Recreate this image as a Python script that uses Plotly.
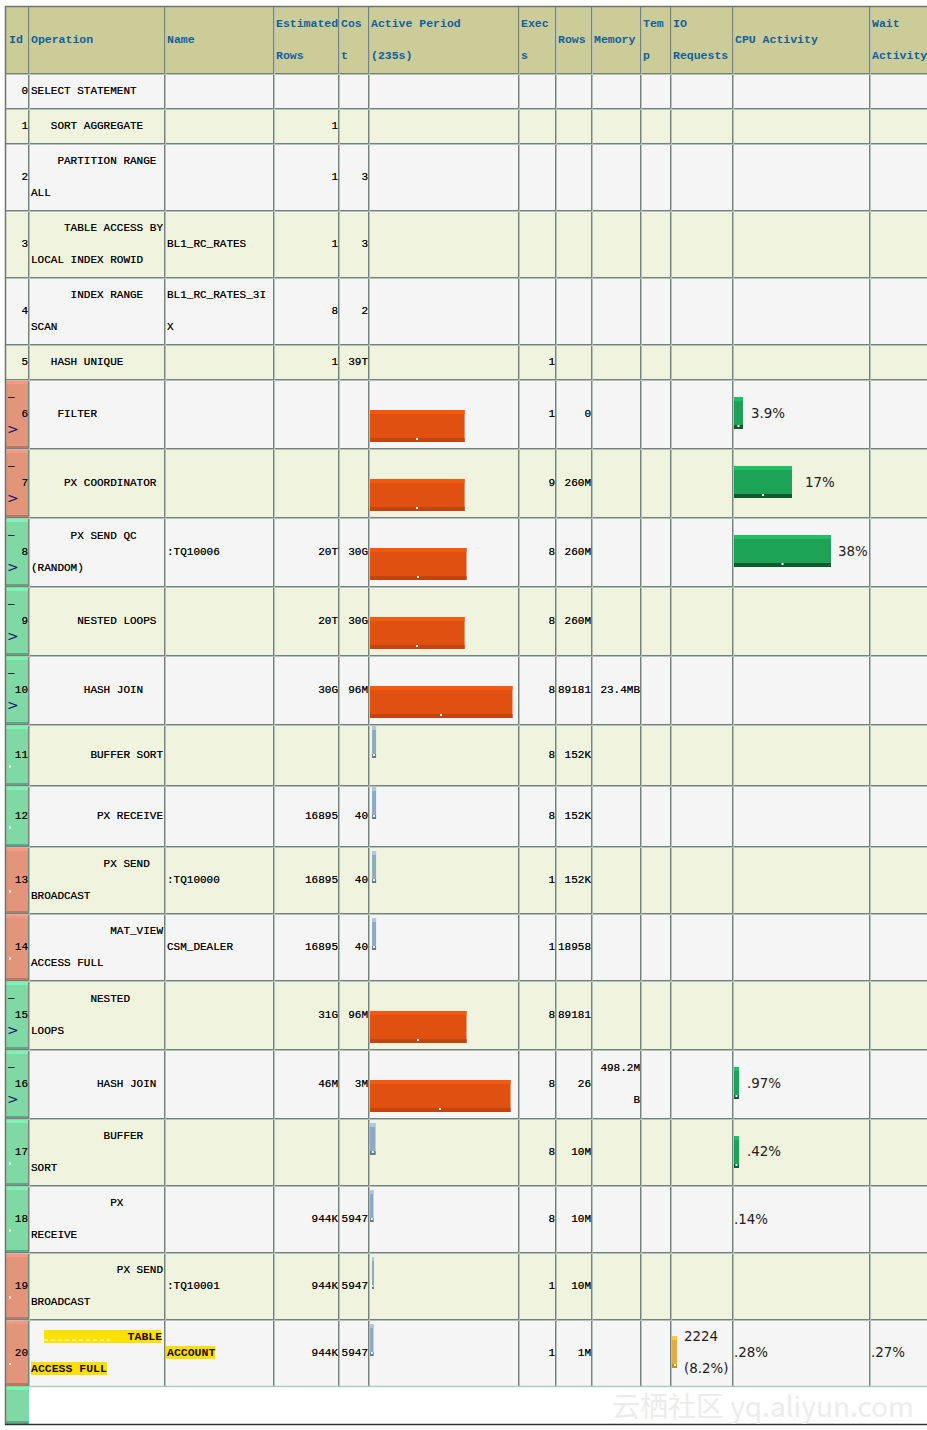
import plotly.graph_objects as go

NB = '\u00a0'

# table content
ids = list(range(21))
op_indent = [0, 3, 4, 5, 6, 3, 4, 5, 6, 7, 8, 9, 10, 11, 12, 9, 10, 11, 12, 13, 14]
op_line1 = ['SELECT STATEMENT', 'SORT AGGREGATE', 'PARTITION RANGE', 'TABLE ACCESS BY', 'INDEX RANGE',
            'HASH UNIQUE', 'FILTER', 'PX COORDINATOR', 'PX SEND QC', 'NESTED LOOPS', 'HASH JOIN',
            'BUFFER SORT', 'PX RECEIVE', 'PX SEND', 'MAT_VIEW', 'NESTED', 'HASH JOIN', 'BUFFER', 'PX',
            'PX SEND', 'TABLE']
op_line2 = ['', '', 'ALL', 'LOCAL INDEX ROWID', 'SCAN', '', '', '', '(RANDOM)', '', '', '', '', 'BROADCAST',
            'ACCESS FULL', 'LOOPS', '', 'SORT', 'RECEIVE', 'BROADCAST', 'ACCESS FULL']
names = ['', '', '', 'BL1_RC_RATES', 'BL1_RC_RATES_3I', '', '', '', ':TQ10006', '', '', '', '', ':TQ10000',
         'CSM_DEALER', '', '', '', '', ':TQ10001', 'ACCOUNT']
est_rows = ['', '1', '1', '1', '8', '1', '', '', '20T', '20T', '30G', '', '16895', '16895', '16895', '31G',
            '46M', '', '944K', '944K', '944K']
costs = ['', '', '3', '3', '2', '39T', '', '', '30G', '30G', '96M', '', '40', '40', '40', '96M', '3M', '',
         '5947', '5947', '5947']
execs = ['', '', '', '', '', '1', '1', '9', '8', '8', '8', '8', '8', '1', '1', '8', '8', '8', '8', '1', '1']
act_rows = ['', '', '', '', '', '', '0', '260M', '260M', '260M', '89181', '152K', '152K', '152K', '18958',
            '89181', '26', '10M', '10M', '10M', '1M']
memory_rows = [10, 16]
memory_text = [['23.4MB'], ['498.2M', 'B']]
headers = [('Id', ['Id']), ('Operation', ['Operation']), ('Name', ['Name']), ('Est', ['Estimated', 'Rows']),
           ('Cost', ['Cos', 't']), ('Active', ['Active Period', '(235s)']), ('Exec', ['Exec', 's']),
           ('Rows', ['Rows']), ('Memory', ['Memory']), ('Temp', ['Tem', 'p']), ('IO', ['IO', 'Requests']),
           ('CPU', ['CPU Activity']), ('Wait', ['Wait', 'Activity'])]

# timeline bars, seconds out of 235s
active_rows = [6, 7, 8, 9, 10, 11, 12, 13, 14, 15, 16, 17, 18, 19, 20]
active_start = [0, 0, 0, 0, 0, 4, 4, 4, 4, 0, 0, 0.8, 0.8, 4, 0.8]
active_secs = [149, 149, 152, 149, 224, 6.3, 6.3, 6.3, 6.3, 152, 221, 8.6, 5.5, 1.5, 5.5]
active_long = [True, True, True, True, True, False, False, False, False, True, True, False, False, False, False]

# CPU activity
cpu_rows = [6, 7, 8, 16, 17]
cpu_bar = [9, 58, 97, 5, 5]
cpu_labels = ['3.9%', '17%', '38%', '.97%', '.42%']
cpu_plain_rows = [18, 20]
cpu_plain_labels = ['.14%', '.28%']
wait_row = 20
wait_label = '.27%'
io_row = 20
io_bar = 5
io_lines = ['2224', '(8.2%)']

red_rows = [6, 7, 13, 14, 19, 20]
green_rows = [8, 9, 10, 11, 12, 15, 16, 17, 18, 21]
expand_rows = [6, 7, 8, 9, 10, 15, 16]
dot_rows = [11, 12, 13, 14, 17, 18, 19, 20]

# page geometry in pixels
col_edges = [6, 29, 165, 274, 339, 369, 519, 556, 592, 641, 671, 733, 870, 929]
row_edges = [7, 74, 109, 144, 211, 278, 345, 380, 449, 518, 587, 656, 725, 786, 847, 914, 981, 1050, 1119,
             1186, 1253, 1320, 1386, 1424]
row_tops = row_edges[1:-1]
row_bots = row_edges[2:]
bar_h = 32
bar_x0 = 369.5
px_per_sec = 150 / 235


def row_mid(r):
    return (row_tops[r] + row_bots[r]) / 2


fig = go.Figure()

# cell backgrounds
C_WHITE, C_EVEN, C_ODD, C_HEAD, C_RED, C_GREEN = 0, 1, 2, 3, 4, 5
cell_colors = ['#ffffff', '#f5f5f5', '#f0f3dd', '#cccc99', '#e2957a', '#7ed9a5']
z = [[C_HEAD] * 13]
for r in range(21):
    z.append([C_ODD if r % 2 else C_EVEN] * 13)
z.append([C_WHITE] * 13)
for r in red_rows:
    z[r + 1][0] = C_RED
for r in green_rows:
    z[r + 1][0] = C_GREEN
scale = []
for i, c in enumerate(cell_colors):
    scale += [[i / 6, c], [(i + 1) / 6, c]]
fig.add_trace(go.Heatmap(x=col_edges, y=row_edges, z=z, zmin=-0.5, zmax=5.5, colorscale=scale, showscale=False,
                         hoverinfo='skip'))


def add_bars(items, color):
    fig.add_trace(go.Bar(orientation='h', base=[i[0] for i in items], x=[i[1] for i in items],
                         y=[i[2] + i[3] / 2 for i in items], width=[i[3] for i in items],
                         marker=dict(color=color, line_width=0), hoverinfo='skip', showlegend=False))


def add_3d_bars(items, top, body, bottom, edge=4):
    add_bars([(x, w, y, bar_h) for x, w, y in items], body)
    add_bars([(x, w, y, edge) for x, w, y in items], top)
    add_bars([(x, w, y + bar_h - edge, edge) for x, w, y in items], bottom)


# id strips
for rows, top, bottom in ((red_rows, '#ff9880', '#b87a64'), (green_rows, '#78f8b0', '#5fa683')):
    add_bars([(6, 22.5, row_tops[r] + 1 if r < 21 else row_edges[-2] + 1, 3) for r in rows], top)
    add_bars([(6, 22.5, (row_bots[r] if r < 21 else row_edges[-1]) - 3, 3) for r in rows], bottom)

# highlighted text of the last line
y20 = row_mid(20)
add_bars([(44, 117, y20 - 23, 13), (31, 76, y20 + 9, 13), (166, 49, y20 - 7, 13)], '#ffe000')

# timeline bars
orange, blue = [], []
for r, s, d, long in zip(active_rows, active_start, active_secs, active_long):
    if long:
        orange.append((bar_x0 + s * px_per_sec, d * px_per_sec, row_tops[r] + 30))
    else:
        blue.append((bar_x0 + s * px_per_sec, d * px_per_sec, row_tops[r] + (1 if r in (11, 12) else 4)))
add_3d_bars(orange, '#f5590f', '#e05010', '#c04510')
add_3d_bars(blue, '#a8c8e8', '#8aaac8', '#607890')
add_3d_bars([(734, w, row_tops[r] + 17) for r, w in zip(cpu_rows, cpu_bar)], '#1fbf66', '#1ca355', '#0e5c2e')
add_3d_bars([(672, io_bar, row_tops[io_row] + 16)], '#ffc840', '#dfae3c', '#b8902f')

# grid lines: dark pixel with a lighter one beside it
for color, off in (('#76837d', -0.5), ('#b4c0b8', 0.5)):
    xs, ys = [], []
    for e in col_edges[1:-1]:
        xs += [e + off, e + off, None]
        ys += [row_edges[0], row_edges[-2], None]
    for e in row_edges[1:-2]:
        xs += [6, 927, None]
        ys += [e + off, e + off, None]
    fig.add_trace(go.Scatter(x=xs, y=ys, mode='lines', line=dict(color=color, width=1), hoverinfo='skip',
                             showlegend=False))
# line under the last data row and outer frame
fig.add_trace(go.Scatter(x=[29, 927], y=[1386.5, 1386.5], mode='lines', line=dict(color='#b8c8c0', width=1.5),
                         hoverinfo='skip', showlegend=False))
fig.add_trace(go.Scatter(x=[927, 5.5, 5.5], y=[6.5, 6.5, 1424.5], mode='lines',
                         line=dict(color='#6f756c', width=1.5), hoverinfo='skip', showlegend=False))
fig.add_trace(go.Scatter(x=[5, 927], y=[1424.5, 1424.5], mode='lines', line=dict(color='#333333', width=1.5),
                         hoverinfo='skip', showlegend=False))


def add_text(items, pos, family, size, color, bold=False, shadow='none'):
    fig.add_trace(go.Scatter(x=[i[0] for i in items], y=[i[1] for i in items], text=[i[2] for i in items],
                             mode='text', textposition=pos, cliponaxis=False, hoverinfo='skip', showlegend=False,
                             textfont=dict(family=family, size=size, color=color, shadow=shadow,
                                           weight='bold' if bold else 'normal')))


MONO = 'Liberation Mono'
SANS = 'DejaVu Sans'
HEAVY = '0 0 0.25px #555555'

# white dots in the bars and strips
dot_x = [bar_x0 + (s + d / 2) * px_per_sec for s, d in zip(active_start, active_secs)]
dot_x += [734 + w / 2 for w in cpu_bar] + [10] * len(dot_rows) + [675]
dot_y = []
for r, long in zip(active_rows, active_long):
    dot_y.append(row_tops[r] + (30 if long else (1 if r in (11, 12) else 4)) + bar_h - 3)
dot_y += [row_tops[r] + 17 + bar_h - 3 for r in cpu_rows]
dot_y += [row_mid(r) + 11 for r in dot_rows]
dot_y += [row_tops[io_row] + 16 + bar_h - 3]
fig.add_trace(go.Scatter(x=dot_x, y=dot_y, mode='markers', hoverinfo='skip', showlegend=False,
                         marker=dict(symbol='square', size=2, color='#ffffff', line_width=0)))
# dashed line under the highlighted word
fig.add_trace(go.Scatter(x=[44, 110], y=[y20 - 13, y20 - 13], mode='lines', hoverinfo='skip', showlegend=False,
                         line=dict(color='#ffffff', width=1, dash='4px 3px')))

# header text
head = []
for c, (key, lines) in enumerate(headers):
    x = col_edges[c] + 2
    if key == 'Id':
        x = 9
    if len(lines) == 1:
        head.append((x, 40, lines[0]))
    else:
        head.append((x, 24, lines[0]))
        head.append((x, 56, lines[1]))
add_text(head, 'middle right', MONO, 11.5, '#0f5f9f', True)

# body text
left, right, left_bold = [], [], []
for r in range(21):
    m = row_mid(r)
    right.append((col_edges[1] - 1, m, str(ids[r])))
    first = NB * op_indent[r] + op_line1[r].replace(' ', NB)
    target = left_bold if r == 20 else left
    if op_line2[r]:
        target.append((31, m - 16, first))
        target.append((31, m + 16, op_line2[r].replace(' ', NB)))
    else:
        target.append((31, m, first))
    if names[r] == 'BL1_RC_RATES_3I':
        target.append((167, m - 16, 'BL1_RC_RATES_3I'))
        target.append((167, m + 16, 'X'))
    elif names[r]:
        target.append((167, m, names[r]))
    for col, vals in ((3, est_rows), (4, costs), (6, execs), (7, act_rows)):
        if vals[r]:
            right.append((col_edges[col + 1] - 1, m, vals[r]))
for r, lines in zip(memory_rows, memory_text):
    m = row_mid(r)
    if len(lines) == 1:
        right.append((col_edges[9] - 1, m, lines[0]))
    else:
        right.append((col_edges[9] - 1, m - 16, lines[0]))
        right.append((col_edges[9] - 1, m + 16, lines[1]))
add_text(left, 'middle right', MONO, 11, '#000000', shadow=HEAVY)
add_text(right, 'middle left', MONO, 11, '#000000', shadow=HEAVY)
add_text(left_bold, 'middle right', MONO, 11.5, '#1a0c00', True)

# expand marks in the id cells
add_text([(8, row_mid(r) - 17, '\u2014') for r in expand_rows], 'middle right', MONO, 11, '#000000')
add_text([(7, row_mid(r) + 16, '>') for r in expand_rows], 'middle right', SANS, 14, '#14146e')

# percent labels
label_x = [751, 805, 838, 747, 747]
pct = [(x, row_mid(r), t) for x, r, t in zip(label_x, cpu_rows, cpu_labels)]
pct += [(734, row_mid(r) + 1, t) for r, t in zip(cpu_plain_rows, cpu_plain_labels)]
pct += [(871, row_mid(wait_row) + 1, wait_label)]
pct += [(684, row_mid(io_row) - 15, io_lines[0]), (684, row_mid(io_row) + 17, io_lines[1])]
add_text(pct, 'middle right', SANS, 13.4, '#202020')

fig.update_layout(
    width=927, height=1430, margin=dict(l=0, r=0, t=0, b=0), showlegend=False, barmode='overlay',
    paper_bgcolor='#ffffff', plot_bgcolor='#ffffff',
    xaxis=dict(range=[0, 927], visible=False, fixedrange=True),
    yaxis=dict(range=[1430, 0], visible=False, fixedrange=True),
    annotations=[dict(x=916, y=1405, xref='x', yref='y', xanchor='right', showarrow=False,
                      text='云栖社区 yq.aliyun.com',
                      font=dict(family='Noto Sans CJK SC', size=28, color='#ececec'))],
)
fig.write_html('out.html', config={'displayModeBar': False},
               post_script="document.body.style.margin='0';document.body.style.overflow='hidden';")
